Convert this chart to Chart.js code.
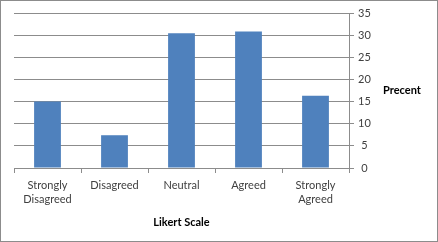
<!DOCTYPE html>
<html>
<head>
<meta charset="utf-8">
<script src="https://cdn.jsdelivr.net/npm/chart.js@4.4.0/dist/chart.umd.min.js"></script>
<style>
  body { margin: 0; background: #fff; }
  #wrap { width: 436px; height: 240px; border: 1px solid #8c8c8c; position: relative; }
</style>
</head>
<body>
<div id="wrap"><canvas id="likert" width="436" height="240"></canvas></div>
<script>
// values
const categories = [["Strongly", "Disagreed"], "Disagreed", "Neutral", "Agreed", ["Strongly", "Agreed"]];
const percents = [15, 7.4, 30.4, 30.8, 16.3];
const xTitle = "Likert Scale";
const yTitle = "Precent";

const gridGray = '#8c8c8c';
const textGray = '#404040';

// right axis title is horizontal in the original, so draw it ourselves
const sideTitle = {
    id: 'sideTitle',
    afterDraw(chart) {
        const ctx = chart.ctx;
        const area = chart.chartArea;
        ctx.save();
        ctx.font = 'bold 11px Lato';
        ctx.fillStyle = '#000';
        ctx.textAlign = 'center';
        ctx.textBaseline = 'middle';
        ctx.fillText(yTitle, 401, (area.top + area.bottom) / 2);
        ctx.restore();
    }
};

const data = {
    labels: categories,
    datasets: [{
        label: yTitle,
        data: percents,
        backgroundColor: '#4f81bd',
        borderWidth: 0,
        barPercentage: 0.4,
        categoryPercentage: 1
    }]
};

const config = {
    type: 'bar',
    data: data,
    plugins: [sideTitle],
    options: {
        responsive: false,
        animation: false,
        events: [],
        layout: { padding: { left: 13, top: 12, right: 0, bottom: 0 } },
        plugins: {
            legend: { display: false },
            tooltip: { enabled: false }
        },
        scales: {
            x: {
                grid: {
                    display: true,
                    drawOnChartArea: false,
                    drawTicks: true,
                    tickLength: 5,
                    color: gridGray
                },
                border: { display: true, color: gridGray },
                ticks: {
                    color: textGray,
                    font: { family: 'Lato', size: 11, lineHeight: 1.3 },
                    padding: 5,
                    maxRotation: 0,
                    autoSkip: false
                },
                title: {
                    display: true,
                    text: xTitle,
                    color: '#000',
                    font: { family: 'Lato', size: 11, weight: 'bold' },
                    padding: { top: 0, bottom: 12 }
                },
                afterFit: function (scale) { scale.height = 73; }
            },
            y: {
                position: 'right',
                min: 0,
                max: 35,
                ticks: {
                    stepSize: 5,
                    color: textGray,
                    font: { family: 'Lato', size: 11 },
                    padding: 4,
                    crossAlign: 'center'
                },
                grid: {
                    color: gridGray,
                    tickLength: 5
                },
                border: { display: true, color: gridGray },
                afterFit: function (scale) { scale.width = 88; }
            }
        }
    }
};

new Chart(document.getElementById('likert'), config);
</script>
</body>
</html>
